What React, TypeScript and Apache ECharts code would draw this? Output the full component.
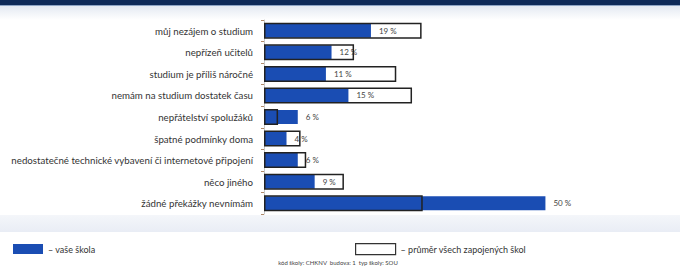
import React, { useEffect, useRef } from "react";
import * as echarts from "echarts";

const categories = [
  "můj nezájem o studium",
  "nepřízeň učitelů",
  "studium je příliš náročné",
  "nemám na studium dostatek času",
  "nepřátelství spolužáků",
  "špatné podmínky doma",
  "nedostatečné technické vybavení či internetové připojení",
  "něco jiného",
  "žádné překážky nevnímám",
];
const schoolValues = [19, 12, 11, 15, 6, 4, 6, 9, 50];
const averageValues = [28, 16, 23.5, 26.3, 2.5, 6.5, 7.5, 14.2, 28.2];
const schoolName = "vaše škola";
const averageName = "průměr všech zapojených škol";
const footerText = "kód školy: CHKNV  budova: 1  typ školy: SOU";

const BLUE = "#1a4db3";
const FONT = "Lato";

export default function App() {
  const ref = useRef<HTMLDivElement>(null);
  useEffect(() => {
    if (!ref.current) return;
    const chart = echarts.init(ref.current, undefined, { renderer: "svg" });
    chart.setOption({
      animation: false,
      backgroundColor: "#ffffff",
      textStyle: { fontFamily: FONT },
      grid: { left: 264, top: 20, height: 194, right: 22 },
      xAxis: {
        type: "value",
        min: 0,
        max: 70,
        show: false,
      },
      yAxis: [
        {
          type: "category",
          data: categories,
          inverse: true,
          axisLine: { show: true, lineStyle: { color: "#c8c8c8", width: 1 } },
          axisTick: { show: true, length: 3, lineStyle: { color: "#b08a6a" } },
          axisLabel: { color: "#333", fontSize: 9.7, margin: 11, fontFamily: FONT },
        },
        {
          type: "category",
          data: categories,
          inverse: true,
          show: false,
        },
      ],
      legend: [
        {
          data: [{ name: schoolName, icon: "rect" }],
          left: 8,
          top: 239,
          itemWidth: 30,
          itemHeight: 10,
          itemGap: 4,
          formatter: (n: string) => "– " + n,
          textStyle: { fontSize: 9, color: "#333", fontFamily: FONT },
          selectedMode: false,
        },
        {
          data: [{ name: averageName, icon: "rect" }],
          left: 350,
          top: 238,
          itemWidth: 40,
          itemHeight: 11,
          itemStyle: { borderWidth: 1.2, borderColor: "#333", color: "#ffffff" },
          formatter: (n: string) => "– " + n,
          textStyle: { fontSize: 9, color: "#333", fontFamily: FONT },
          selectedMode: false,
        },
      ],
      graphic: [
        { type: "rect", shape: { x: 0, y: 0, width: 680, height: 5 }, style: { fill: "#0f2a58" }, z: -10 },
        { type: "rect", shape: { x: 0, y: 5, width: 680, height: 1 }, style: { fill: "#8ea4c4" }, z: -10 },
        {
          type: "rect",
          shape: { x: 0, y: 6, width: 680, height: 14 },
          style: {
            fill: new echarts.graphic.LinearGradient(0, 0, 0, 1, [
              { offset: 0, color: "#e4e9f2" },
              { offset: 1, color: "#ffffff" },
            ]),
          },
          z: -10,
        },
        {
          type: "rect",
          shape: { x: 0, y: 215, width: 680, height: 17 },
          style: {
            fill: new echarts.graphic.LinearGradient(0, 0, 0, 1, [
              { offset: 0, color: "#f4f6fa" },
              { offset: 1, color: "#e9edf5" },
            ]),
          },
          z: -10,
        },
        {
          type: "text",
          x: 338,
          y: 262,
          style: {
            text: footerText,
            fontSize: 6,
            fill: "#444",
            fontFamily: FONT,
            align: "center",
            verticalAlign: "middle",
          },
        },
      ],
      series: [
        {
          name: schoolName,
          type: "bar",
          yAxisIndex: 0,
          data: schoolValues,
          barWidth: 14,
          itemStyle: { color: BLUE },
          label: {
            show: true,
            position: "right",
            distance: 8,
            formatter: "{c} %",
            fontSize: 8,
            color: "#444",
            fontFamily: FONT,
          },
          z: 2,
        },
        {
          name: averageName,
          type: "bar",
          yAxisIndex: 1,
          data: averageValues,
          barWidth: 16,
          itemStyle: { color: "rgba(255,255,255,0)", borderColor: "#222", borderWidth: 1.5 },
          z: 3,
        },
      ],
    });
    return () => chart.dispose();
  }, []);
  return <div ref={ref} style={{ width: 680, height: 269, position: "absolute", left: 0, top: 0 }} />;
}
